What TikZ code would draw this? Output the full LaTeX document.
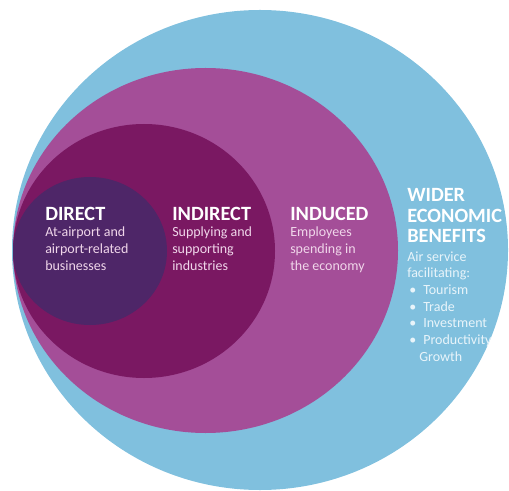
\documentclass[tikz,border=0pt]{standalone}
\usepackage{fontspec}
\setmainfont{Carlito}
\usetikzlibrary{positioning}

\definecolor{benefitblue}{RGB}{128,192,222}
\definecolor{inducedpink}{RGB}{164,78,152}
\definecolor{indirectplum}{RGB}{122,24,98}
\definecolor{directpurple}{RGB}{78,38,104}
\definecolor{pinktext}{RGB}{240,214,234}
\definecolor{bluetext}{RGB}{232,244,250}

\tikzset{
  head/.style={anchor=base west, inner sep=0pt, text=white, align=left,
    font=\bfseries\fontsize{15.2}{15.4}\selectfont},
  body/.style={inner sep=0pt, text=pinktext, align=left,
    font=\fontsize{10.5}{12.5}\selectfont},
}

\begin{document}
\begin{tikzpicture}[x=0.75pt,y=0.75pt,yscale=-1,xscale=1]
\path[use as bounding box] (0,0) rectangle (509,491);

%Ellipses, outermost first
\fill[benefitblue] (260,250) ellipse [x radius=248, y radius=240];
\fill[inducedpink] (205.5,250.5) ellipse [x radius=192.5, y radius=182.5];
\fill[indirectplum] (144,251) ellipse [x radius=131, y radius=127];
\fill[directpurple] (90,251) ellipse [x radius=77, y radius=74];

% Headings (base = last line)
\node[head] (direct) at (45,220) {DIRECT};
\node[head] (indirect) at (172,220) {INDIRECT};
\node[head] (induced) at (290,220) {INDUCED};
\node[head] (wider) at (407,243) {WIDER\\ECONOMIC\\BENEFITS};

% Text under the headings
\node[body, below=37.7pt of direct.base west, anchor=base west] (directtxt)
  {At-airport and\\airport-related\\businesses};
\node[body, below=37.7pt of indirect.base west, anchor=base west] (indirecttxt)
  {Supplying and\\supporting\\industries};
\node[body, below=37.7pt of induced.base west, anchor=base west] (inducedtxt)
  {Employees\\spending in\\the economy};
\node[body, text=bluetext, below=88.5pt of wider.base west, anchor=base west] (widertxt)
  {Air service\\facilitating:\\
   \hspace*{1.5pt}\makebox[10.5pt][l]{\textbullet}Tourism\\
   \hspace*{1.5pt}\makebox[10.5pt][l]{\textbullet}Trade\\
   \hspace*{1.5pt}\makebox[10.5pt][l]{\textbullet}Investment\\
   \hspace*{1.5pt}\makebox[10.5pt][l]{\textbullet}Productivity\\
   \hspace*{9pt}Growth};

\end{tikzpicture}
\end{document}
